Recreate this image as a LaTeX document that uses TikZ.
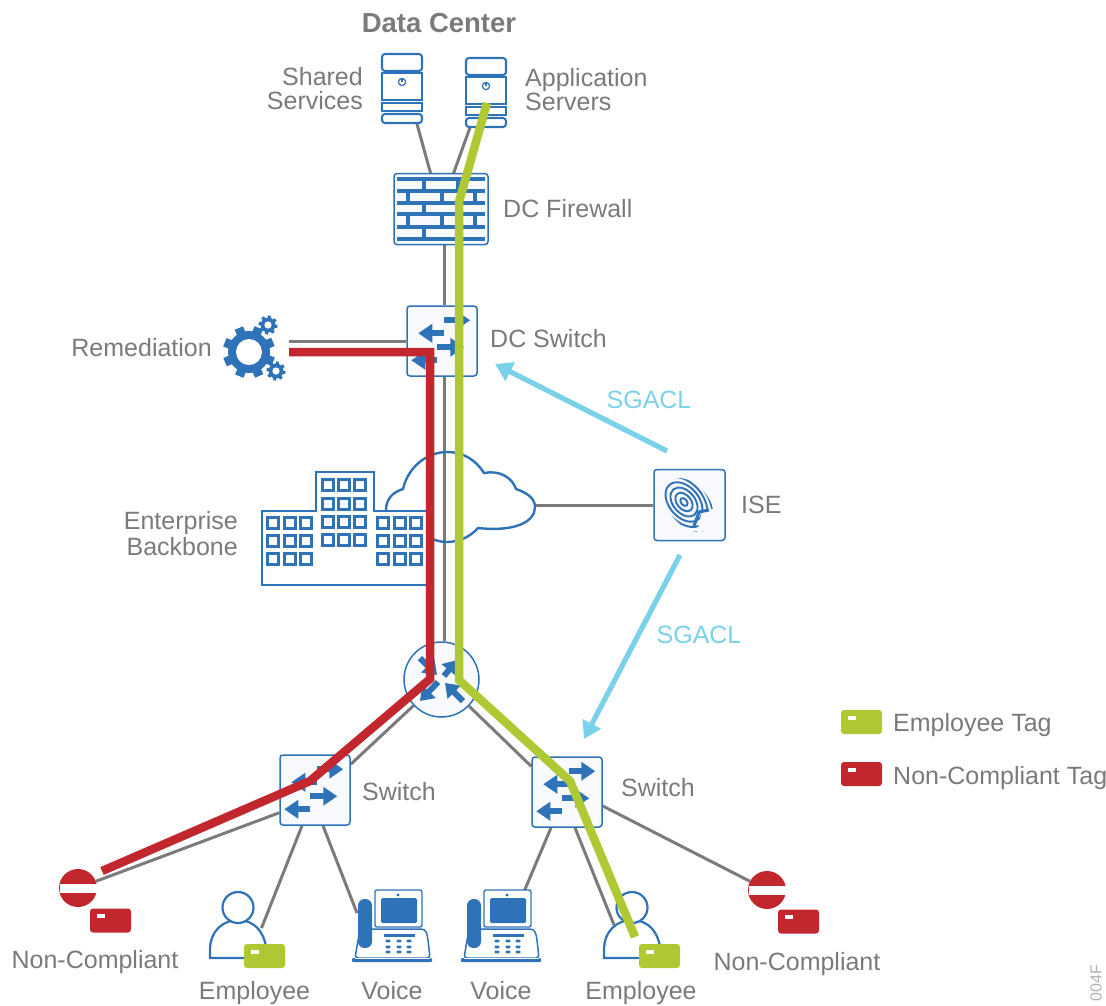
\documentclass[tikz,border=0pt]{standalone}
\usepackage{fontspec}
\setmainfont{Liberation Sans}
\usetikzlibrary{calc,arrows.meta,backgrounds}
\definecolor{cblue}{HTML}{2E72B8}
\definecolor{cred}{HTML}{C1272D}
\definecolor{cgreen}{HTML}{AFC934}
\definecolor{csky}{HTML}{7AD1EA}
\definecolor{cgray}{HTML}{7B7B7B}
\definecolor{ctext}{HTML}{7A7A7A}
\definecolor{cpale}{HTML}{F8FAFD}
\tikzset{
  lbl/.style={text=ctext,font=\fontsize{25}{24}\selectfont,inner sep=0pt,align=center},
  lbll/.style={lbl,anchor=west,align=left},
  lblr/.style={lbl,anchor=east,align=right},
  swbox/.style={draw=cblue,fill=cpale,line width=1.5pt,rounded corners=3pt,minimum size=70pt,inner sep=0pt},
  hit/.style={inner sep=0pt,outer sep=0pt},
  router/.style={circle,draw=cblue,fill=cpale,line width=1.5pt,minimum size=75pt,inner sep=0pt},
  tagbox/.style={rounded corners=3pt,minimum width=41pt,minimum height=24pt,inner sep=0pt},
  noentry/.style={circle,fill=cred,minimum size=38pt,inner sep=0pt},
  wire/.style={draw=cgray,line width=3pt},
  skyarrow/.style={draw=csky,line width=5.2pt,-{Triangle[length=17pt,width=20pt]}},
  swarrow/.style={draw=cblue,line width=6pt,-{Triangle[length=14pt,width=18pt]}},
  rtarrow/.style={draw=cblue,line width=6pt,-{Triangle[length=13pt,width=18pt]}},
  tagpath/.style={line width=8.5pt,line join=miter},
  fineblue/.style={draw=cblue,line width=2.1pt},
  brickline/.style={draw=cblue,line width=3.2pt},
  plan/.style={draw=cblue,line width=2.4pt},
  pics/serverpic/.style={code={
    \draw[fineblue,rounded corners=3pt] (0,0) rectangle (40,17);
    \draw[fineblue] (0,19) rectangle (40,46);
    \draw[fineblue] (0,49) rectangle (40,57);
    \draw[fineblue,rounded corners=3pt] (0,60) rectangle (40,69);
    \draw[draw=cblue,line width=1.2pt] (20,28) circle (3.6pt);
    \draw[draw=cblue,line width=1.2pt] (20,25) -- (20,28);
  }},
  pics/phonepic/.style={code={
    \draw[draw=cblue,line width=1.5pt,fill=white,rounded corners=3pt] (3,68) -- (8,39) -- (66,39) .. controls (74,39) and (75,44) .. (76,50) -- (78,68) -- cycle;
    \fill[cblue,rounded corners=1pt] (0,68) rectangle (80,72);
    \draw[draw=white,line width=.8pt] (3,68) -- (78,68);
    \fill[cblue,rounded corners=6.5pt] (6,9) rectangle (20,58);
    \draw[draw=cblue,line width=1.4pt,fill=white,rounded corners=2pt] (23,0) rectangle (70,37);
    \fill[cblue,rounded corners=1.5pt] (29,8) rectangle (65,33);
    \fill[cblue] (46,5) circle (1.6pt);
    \fill[cblue] (32,44) rectangle (63,46.5);
    \foreach \kx in {36,47,57} \foreach \ky in {51,57,62}
      \fill[cblue,rounded corners=1pt] (\kx-2.5,\ky-1.3) rectangle (\kx+2.5,\ky+1.3);
  }},
  pics/personpic/.style={code={
    \draw[draw=cblue,line width=2.2pt,fill=white] (0,66) -- (0,58) .. controls (0,38) and (14,28) .. (28,28) .. controls (44,28) and (57,40) .. (57,66) -- cycle;
    \draw[draw=cblue,line width=2.2pt,fill=white] (28,15.5) circle (15.5pt);
  }},
  pics/gearpic/.style={code={
    \foreach \a in {0,45,...,315} \draw[draw=cblue,line width=9pt] (0,0) -- (\a+22:26);
    \fill[cblue] (0,0) circle (21pt);
    \fill[white] (0,0) circle (13pt);
    \foreach \gx/\gy in {19/-27,27/19} {
      \begin{scope}[shift={(\gx,\gy)}]
        \foreach \a in {0,45,...,315} \draw[draw=cblue,line width=3.2pt] (0,0) -- (\a+10:9.5);
        \fill[cblue] (0,0) circle (7.5pt);
        \fill[white] (0,0) circle (3.6pt);
      \end{scope}
    }
  }}
}
\newcommand{\swarrows}[1]{%
  \draw[swarrow] ($(#1.north west)+(38,15)$) -- ($(#1.north west)+(64,15)$);
  \draw[swarrow] ($(#1.north west)+(38,28)$) -- ($(#1.north west)+(12,28)$);
  \draw[swarrow] ($(#1.north west)+(31,42)$) -- ($(#1.north west)+(58,42)$);
  \draw[swarrow] ($(#1.north west)+(31,55)$) -- ($(#1.north west)+(5,55)$);
}
\newcommand{\tagmark}[1]{\fill[white] ($(#1.north west)+(7,6)$) rectangle ($(#1.north west)+(15,10)$);}
\newcommand{\entrybar}[1]{\fill[white] ($(#1.center)+(-18.5,-4.5)$) rectangle ($(#1.center)+(18.5,4.5)$);}
\begin{document}
\begin{tikzpicture}[x=1pt,y=-1pt]
\useasboundingbox (0,0) rectangle (1106,1005);

% device nodes
\node[hit,minimum width=40pt,minimum height=70pt] (shared) at (402,89) {};
\node[hit,minimum width=40pt,minimum height=70pt] (appsrv) at (486,92.5) {};
\node[swbox,minimum width=94pt,minimum height=71pt] (fw) at (441,209) {};
\node[swbox] (dcsw) at (442,341) {};
\node[swbox,minimum size=71pt] (ise) at (689.5,505) {};
\node[router] (rtr) at (441.5,679.5) {};
\node[swbox] (lsw) at (315,790) {};
\node[swbox] (rsw) at (567,792) {};
\node[hit,minimum width=50pt,minimum height=52pt] (gear) at (249,352) {};
\node[hit,minimum width=150pt,minimum height=92pt] (cloud) at (460,497) {};
\node[noentry] (lno) at (78,888) {};
\node[noentry] (rno) at (767,890) {};
\node[hit,minimum width=57pt,minimum height=66pt] (lper) at (238.5,925) {};
\node[hit,minimum width=57pt,minimum height=66pt] (rper) at (632,925) {};
\node[hit,minimum width=80pt,minimum height=72pt] (lph) at (392,926) {};
\node[hit,minimum width=80pt,minimum height=72pt] (rph) at (501,926) {};

% grey connectors
\begin{scope}[on background layer]
  \draw[wire] ($(shared.south)+(15,0)$) -- ($(fw.north)+(-10,2)$);
  \draw[wire] ($(appsrv.south)+(-16,0)$) -- ($(fw.north)+(12,2)$);
  \draw[wire] ($(fw.south)+(3,0)$) -- ($(dcsw.north)+(2,0)$);
  \draw[wire] ($(dcsw.south)+(2,0)$) -- ($(rtr.north)+(2.5,0)$);
  \draw[wire] ($(gear.east)+(15,-11)$) -- (dcsw.west);
  \draw[wire] (cloud.east |- ise.west) -- (ise.west);
  \draw[wire] (rtr) -- ($(lsw.north east)+(0,10)$);
  \draw[wire] (rtr) -- ($(rsw.north west)+(0,10)$);
  \draw[wire] ($(lsw.south west)+(0,-13)$) -- (lno);
  \draw[wire] ($(lsw.south)+(-13,0)$) -- ($(lper.north)+(23,36)$);
  \draw[wire] ($(lsw.south)+(8,0)$) -- ($(lph.north)+(-35,23)$);
  \draw[wire] ($(rsw.south)+(-16,0)$) -- ($(rph.north)+(22,4)$);
  \draw[wire] ($(rsw.south)+(8,0)$) -- ($(rper.north)+(-18,33)$);
  \draw[wire] ($(rsw.east)+(0,14)$) -- (rno);
\end{scope}

% servers
\pic at (382,54) {serverpic};
\pic at (466,58) {serverpic};

% firewall bricks
\foreach \yy in {179,191,203,214,227,239} \draw[brickline] (397,\yy) -- (485,\yy);
\foreach \yy/\yb in {179/191,203/214,227/239} {
  \draw[brickline] (424,\yy) -- (424,\yb);
  \draw[brickline] (458,\yy) -- (458,\yb);
}
\foreach \yy/\yb in {191/203,214/227} {
  \draw[brickline] (408,\yy) -- (408,\yb);
  \draw[brickline] (442,\yy) -- (442,\yb);
  \draw[brickline] (475,\yy) -- (475,\yb);
}

% switch and router arrows
\swarrows{dcsw}
\swarrows{lsw}
\swarrows{rsw}
\draw[rtarrow] (420,658) -- (437,675);
\draw[rtarrow] (444,676) -- (457,660);
\draw[rtarrow] (438,682) -- (420,701);
\draw[rtarrow] (463,701) -- (445,683);

% gear
\pic at (249,352) {gearpic};

% cloud
\draw[plan] (386,510) .. controls (386,499) and (393,492) .. (403,489)
  .. controls (408,467) and (427,452) .. (447,452)
  .. controls (463,452) and (476,460) .. (484,473)
  .. controls (499,470) and (512,477) .. (516,489)
  .. controls (528,493) and (535,499) .. (535,507)
  .. controls (535,522) and (515,532) .. (478,528)
  .. controls (470,537) and (459,542) .. (447,542)
  .. controls (440,542) and (434,540) .. (428,537);

% building
\draw[plan] (428,511) -- (374,511) -- (374,472) -- (316,472) -- (316,511) -- (262,511) -- (262,585) -- (428,585);
\foreach \cx in {273,290,306,383,400,416} \foreach \cy in {523,541,559}
  \draw[plan] (\cx-5.5,\cy-5.5) rectangle (\cx+5.5,\cy+5.5);
\foreach \cx in {328,344,360} \foreach \cy in {485,504,522,540}
  \draw[plan] (\cx-5.5,\cy-5.5) rectangle (\cx+5.5,\cy+5.5);

% fingerprint
\begin{scope}
  \clip[rotate around={-50:(689,505)}] (689,505) ellipse [x radius=31pt,y radius=20pt];
  \foreach \rr in {3,7,11,15,19,23,27,31,35}
    \draw[draw=cblue,line width=1.9pt,rotate around={-50:(684,502)}] (684,502) ellipse [x radius=1.5*\rr pt,y radius=\rr pt];
  \fill[cpale] (716,508) -- (702,511) -- (697,532) -- (730,532) -- cycle;
\end{scope}
\draw[draw=cblue,line width=3pt] (709,510) -- (699,512) -- (694,526);

% people and phones
\pic at (210,892) {personpic};
\pic at (604,892) {personpic};
\pic at (352,890) {phonepic};
\pic at (461,890) {phonepic};

% no entry bars
\entrybar{lno}
\entrybar{rno}

% tags
\node[tagbox,fill=cred] (ltag) at (110.5,920.5) {};
\node[tagbox,fill=cred] (rtag) at (798.5,921.5) {};
\node[tagbox,fill=cgreen] (letag) at (264.5,956) {};
\node[tagbox,fill=cgreen] (retag) at (659.5,956) {};
\node[tagbox,fill=cgreen] (legg) at (861.5,722) {};
\node[tagbox,fill=cred] (legr) at (861.5,774) {};
\tagmark{ltag}\tagmark{rtag}\tagmark{letag}\tagmark{retag}\tagmark{legg}\tagmark{legr}

% SGACL arrows
\coordinate (skyA) at (667,451);
\coordinate (skyB) at (495,364);
\coordinate (skyC) at (680,555);
\coordinate (skyD) at (584,739);
\draw[skyarrow] (skyA) -- (skyB);
\draw[skyarrow] (skyC) -- (skyD);

% tagged paths
\coordinate (gA) at (487,103);
\coordinate (gB) at (459,202);
\coordinate (gC) at (459,680);
\coordinate (gD) at (570,781);
\coordinate (gE) at (635,937);
\coordinate (rA) at (289,352);
\coordinate (rB) at (430,352);
\coordinate (rC) at (430,679);
\coordinate (rD) at (310,781);
\coordinate (rE) at (102,871);
\draw[tagpath,draw=cgreen] (gA) -- (gB) -- (gC) -- (gD) -- (gE);
\draw[tagpath,draw=cred] (rA) -- (rB) -- (rC) -- (rD) -- (rE);

% labels
\node[lbl,font=\fontsize{27.5}{24}\selectfont\bfseries] (tdc) at (439,23) {Data Center};
\node[lblr] (tsh) at (363,89) {Shared\\Services};
\node[lbll] (tap) at (525,90) {Application\\Servers};
\node[lbll] (tfw) at (503,209) {DC Firewall};
\node[lbll] (tds) at (490,339) {DC Switch};
\node[lblr] (trem) at (212,348) {Remediation};
\node[lblr] (teb) at (238,534) {Enterprise\\[2pt]Backbone};
\node[lbll] (tise) at (741,505) {ISE};
\node[lbl,text=csky] (tsg1) at (649,400) {SGACL};
\node[lbl,text=csky] (tsg2) at (699,635) {SGACL};
\node[lbll] (tls) at (362,792) {Switch};
\node[lbll] (trs) at (621,788) {Switch};
\node[lbl] (tln) at (95,962) {Non-Compliant};
\node[lbl] (tle) at (254.5,993) {Employee};
\node[lbl] (tlv) at (392,991) {Voice};
\node[lbl] (trv) at (501,991) {Voice};
\node[lbl] (tre) at (641,993) {Employee};
\node[lbl] (trn) at (797,964) {Non-Compliant};
\node[lbll] (tlg) at (893,725) {Employee Tag};
\node[lbll] (tlr) at (893,778) {Non-Compliant Tag};
\node[inner sep=0pt,text=black!30,font=\fontsize{16}{16}\selectfont,rotate=90,anchor=east] (tid) at (1096,965) {004F};
\end{tikzpicture}
\end{document}
